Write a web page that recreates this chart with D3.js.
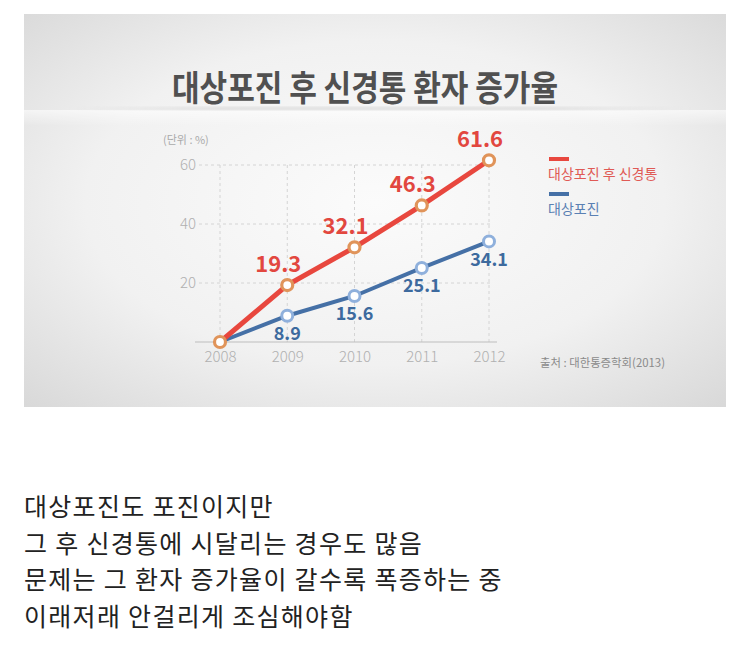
<!DOCTYPE html>
<html><head><meta charset="utf-8">
<script src="https://cdn.jsdelivr.net/npm/d3@7"></script>
<style>
body{margin:0;background:#fff;}
svg text{font-family:"Noto Sans CJK KR","Noto Sans",sans-serif;}
</style></head>
<body>
<svg id="c" width="750" height="662"></svg>
<script>
const years = ["2008","2009","2010","2011","2012"];
const afterPain = [0, 19.3, 32.1, 46.3, 61.6];
const shingles = [0, 8.9, 15.6, 25.1, 34.1];
const yTicks = [20, 40, 60];
const seriesNames = ["대상포진 후 신경통", "대상포진"];
const title = "대상포진 후 신경통 환자 증가율";
const unitLabel = "(단위 : %)";
const sourceLabel = "출처 : 대한통증학회(2013)";
const bodyLines = ["대상포진도 포진이지만","그 후 신경통에 시달리는 경우도 많음","문제는 그 환자 증가율이 갈수록 폭증하는 중","이래저래 안걸리게 조심해야함"];

const svg = d3.select("#c");
const defs = svg.append("defs");
const rg = defs.append("radialGradient").attr("id","bg").attr("cx","50%").attr("cy","48%").attr("r","75%");
rg.append("stop").attr("offset","0%").attr("stop-color","#fbfbfb");
rg.append("stop").attr("offset","55%").attr("stop-color","#f1f1f1");
rg.append("stop").attr("offset","100%").attr("stop-color","#d6d6d6");
const sh = defs.append("linearGradient").attr("id","sh").attr("x1",0).attr("y1",0).attr("x2",1).attr("y2",0);
sh.append("stop").attr("offset","0%").attr("stop-color","#d2d2d2").attr("stop-opacity",0);
sh.append("stop").attr("offset","25%").attr("stop-color","#d2d2d2").attr("stop-opacity",0.7);
sh.append("stop").attr("offset","75%").attr("stop-color","#d2d2d2").attr("stop-opacity",0.7);
sh.append("stop").attr("offset","100%").attr("stop-color","#d2d2d2").attr("stop-opacity",0);
const wb = defs.append("linearGradient").attr("id","wb").attr("x1",0).attr("y1",0).attr("x2",0).attr("y2",1);
wb.append("stop").attr("offset","0%").attr("stop-color","#ffffff").attr("stop-opacity",0.6);
wb.append("stop").attr("offset","100%").attr("stop-color","#ffffff").attr("stop-opacity",0);
defs.append("filter").attr("id","blur").append("feGaussianBlur").attr("stdDeviation",1.5);

svg.append("rect").attr("x",24).attr("y",14).attr("width",702).attr("height",393).attr("fill","url(#bg)");
svg.append("rect").attr("x",24).attr("y",110).attr("width",702).attr("height",16).attr("fill","url(#wb)");
svg.append("rect").attr("x",70).attr("y",107).attr("width",620).attr("height",3).attr("fill","url(#sh)").attr("filter","url(#blur)");

svg.append("text").attr("x",365).attr("y",101).attr("text-anchor","middle")
  .attr("font-size",35).attr("font-weight",700).attr("fill","#505050")
  .attr("textLength",386).attr("lengthAdjust","spacingAndGlyphs").text(title);

const x = d3.scalePoint().domain(years).range([220,489]);
const y = d3.scaleLinear().domain([0,60]).range([342,165]);

const g = svg.append("g");
g.selectAll(".hg").data(yTicks).join("line")
  .attr("x1",199).attr("x2",492).attr("y1",d=>y(d)).attr("y2",d=>y(d))
  .attr("stroke","#d4d4d4").attr("stroke-dasharray","3,3");
g.selectAll(".vg").data(years).join("line")
  .attr("x1",d=>x(d)).attr("x2",d=>x(d)).attr("y1",y(60)).attr("y2",y(0))
  .attr("stroke","#d4d4d4").attr("stroke-dasharray","3,3");
g.append("line").attr("x1",195).attr("x2",497).attr("y1",y(0)).attr("y2",y(0)).attr("stroke","#bdbdbd").attr("stroke-width",1.2);

const yAxis = d3.axisLeft(y).tickValues(yTicks).tickSize(0).tickPadding(0);
const ya = svg.append("g").attr("transform","translate(196,0)").call(yAxis);
ya.select(".domain").remove();
ya.selectAll("text").attr("font-size",15).attr("fill","#b0b0b0").attr("font-family","'Noto Sans CJK KR',sans-serif").attr("font-weight",300);
const xAxis = d3.axisBottom(x).tickSize(0).tickPadding(0);
const xa = svg.append("g").attr("transform","translate(0,349)").call(xAxis);
xa.select(".domain").remove();
xa.selectAll("text").attr("font-size",15).attr("fill","#b0b0b0").attr("font-family","'Noto Sans CJK KR',sans-serif").attr("font-weight",300).attr("dy","0.85em");

svg.append("text").attr("x",163).attr("y",144).attr("font-size",11).attr("fill","#aaa").text(unitLabel);

const line = d3.line().x((d,i)=>x(years[i])).y(d=>y(d));
svg.append("path").datum(shingles).attr("d",line).attr("fill","none").attr("stroke","#4570a6").attr("stroke-width",4);
svg.append("path").datum(afterPain).attr("d",line).attr("fill","none").attr("stroke","#e8473e").attr("stroke-width",5);

svg.selectAll(".bm").data(shingles.slice(1)).join("circle")
  .attr("cx",(d,i)=>x(years[i+1])).attr("cy",d=>y(d)).attr("r",5.5)
  .attr("fill","#fff").attr("stroke","#8fb0dc").attr("stroke-width",3);
svg.selectAll(".rm").data(afterPain).join("circle")
  .attr("cx",(d,i)=>x(years[i])).attr("cy",d=>y(d)).attr("r",5.5)
  .attr("fill","#fff").attr("stroke","#e0945a").attr("stroke-width",3.2);

svg.selectAll(".rl").data(afterPain.slice(1)).join("text")
  .attr("x",(d,i)=>x(years[i+1])-9).attr("y",d=>y(d)-13)
  .attr("text-anchor","middle").attr("font-size",22).attr("font-weight",700)
  .attr("fill","#e2473f").attr("font-family","'Noto Sans','Liberation Sans',sans-serif").text(d=>d.toFixed(1));
svg.selectAll(".bl").data(shingles.slice(1)).join("text")
  .attr("x",(d,i)=>x(years[i+1])).attr("y",d=>y(d)+24.5)
  .attr("text-anchor","middle").attr("font-size",18).attr("font-weight",700)
  .attr("fill","#3d6a9e").attr("font-family","'Noto Sans','Liberation Sans',sans-serif").text(d=>d.toFixed(1));

const legColors = ["#e8473e","#4570a6"];
const legText = ["#e05a55","#5a80b3"];
const lg = svg.append("g");
seriesNames.forEach((n,i)=>{
  lg.append("rect").attr("x",549).attr("y",157+i*35).attr("width",20).attr("height",4).attr("fill",legColors[i]);
  lg.append("text").attr("x",548).attr("y",179+i*35).attr("font-size",14).attr("fill",legText[i]).text(n);
});
svg.append("text").attr("x",540).attr("y",367).attr("font-size",11.5).attr("fill","#8a8a8a")
  .attr("textLength",125).attr("lengthAdjust","spacingAndGlyphs").text(sourceLabel);

svg.selectAll(".body").data(bodyLines).join("text")
  .attr("x",24).attr("y",(d,i)=>516+i*36.5).attr("font-size",25).attr("letter-spacing",1.3)
  .attr("fill","#222").text(d=>d);
</script>
</body></html>
